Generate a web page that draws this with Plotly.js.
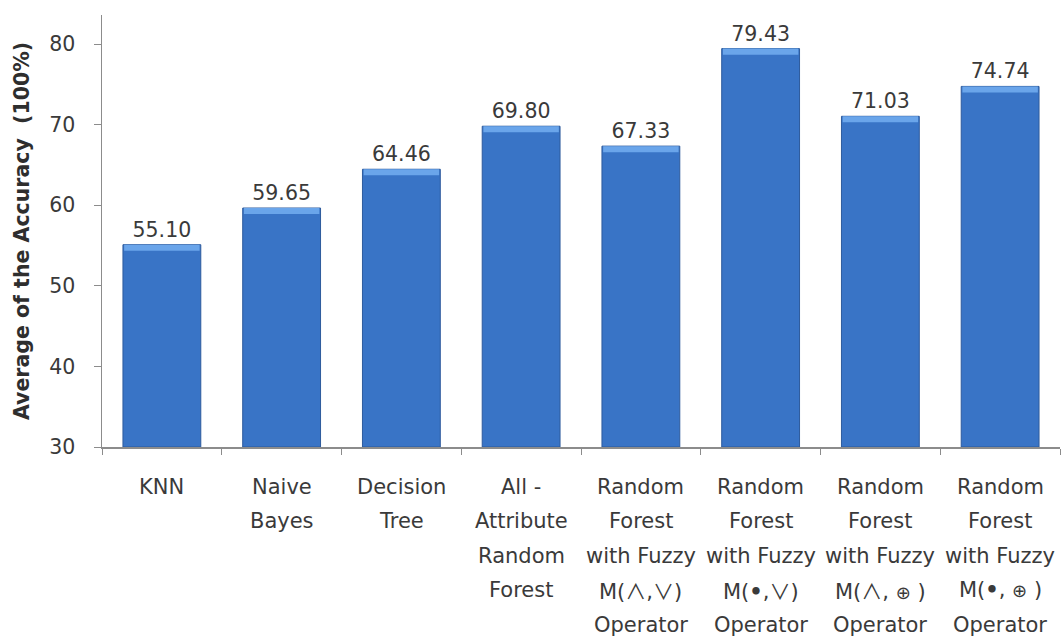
<!DOCTYPE html>
<html>
<head>
<meta charset="utf-8">
<script src="https://cdn.plot.ly/plotly-3.0.1.min.js"></script>
<style>
  html, body { margin: 0; padding: 0; background: #ffffff; }
  #chart { width: 1061px; height: 640px; }
</style>
</head>
<body>
<div id="chart"></div>
<script>
// Classifier ids (one per bar)
const categories = ['KNN', 'NB', 'DT', 'AARF', 'RF-MinMax', 'RF-ProdMax', 'RF-MinSum', 'RF-ProdSum'];

// Average accuracy of each classifier (%)
const accuracy = [55.10, 59.65, 64.46, 69.80, 67.33, 79.43, 71.03, 74.74];

// operator glyphs, set in a font that draws them at full height
const AND = '<span style="font-family:\'Noto Sans CJK JP\'">\u2227</span>';
const OR = '<span style="font-family:\'Noto Sans CJK JP\'">\u2228</span>';
const DOT = '<b>\u2022</b>';
const XOR = '<span style="font-size:18px">\u2295</span>';

// Label lines drawn under each bar
const tickLines = [
  ['KNN'],
  ['Naive', 'Bayes'],
  ['Decision', 'Tree'],
  ['All -', 'Attribute', 'Random', 'Forest'],
  ['Random', 'Forest', 'with Fuzzy', 'M(' + AND + ',' + OR + ')', 'Operator'],
  ['Random', 'Forest', 'with Fuzzy', 'M(' + DOT + ',' + OR + ')', 'Operator'],
  ['Random', 'Forest', 'with Fuzzy', 'M(' + AND + ', ' + XOR + ' )', 'Operator'],
  ['Random', 'Forest', 'with Fuzzy', 'M(' + DOT + ', ' + XOR + ' )', 'Operator']
];

const yTicks = [30, 40, 50, 60, 70, 80];

const FONT = 'DejaVu Sans, Verdana, sans-serif';
const TEXT = '#3a3a3a';
const AXIS = '#8c8c8c';
const BEVEL = 0.75;

const body = {
  type: 'bar',
  x: categories,
  y: accuracy.map(v => v - 30),
  base: 30,
  width: 0.65,
  marker: { color: '#3974c6', line: { color: '#2d5a9c', width: 1 } },
  text: accuracy.map(v => v.toFixed(2)),
  textposition: 'outside',
  textfont: { family: FONT, size: 20.5, color: TEXT },
  cliponaxis: false,
  hoverinfo: 'skip'
};

// lighter bevelled cap on top of each bar
const cap = {
  type: 'bar',
  x: categories,
  y: accuracy.map(() => BEVEL),
  base: accuracy.map(v => v - BEVEL),
  width: 0.63,
  marker: { color: '#6aa5ea', line: { width: 0 } },
  hoverinfo: 'skip'
};

const annotations = [];
categories.forEach((c, i) => {
  tickLines[i].forEach((line, j) => {
    annotations.push({
      x: c, xref: 'x',
      y: 0, yref: 'paper',
      yanchor: 'middle',
      yshift: -(39.5 + j * 34.5),
      text: line,
      showarrow: false,
      font: { family: FONT, size: 21, color: TEXT }
    });
  });
});

const layout = {
  width: 1061,
  height: 640,
  margin: { l: 102, r: 1, t: 15, b: 193 },
  paper_bgcolor: '#ffffff',
  plot_bgcolor: '#ffffff',
  showlegend: false,
  barmode: 'overlay',
  font: { family: FONT, color: TEXT },
  xaxis: {
    type: 'category',
    showticklabels: false,
    showline: true,
    linecolor: AXIS,
    linewidth: 1.5,
    ticks: 'outside',
    tickson: 'boundaries',
    ticklen: 6,
    tickcolor: AXIS,
    showgrid: false,
    zeroline: false,
    fixedrange: true
  },
  yaxis: {
    range: [30, 83.6],
    tickvals: yTicks,
    ticktext: yTicks.map(String),
    ticks: 'outside',
    ticklen: 7,
    tickcolor: AXIS,
    ticklabelstandoff: 14,
    tickfont: { family: FONT, size: 20.5, color: TEXT },
    showline: true,
    linecolor: AXIS,
    linewidth: 1.5,
    showgrid: false,
    zeroline: false,
    fixedrange: true,
    title: {
      text: 'Average of the Accuracy  (100%)',
      font: { family: FONT, size: 20.5, color: '#2e2e2e', weight: 'bold' },
      standoff: 14
    }
  },
  annotations: annotations
};

Plotly.newPlot('chart', [body, cap], layout, { displayModeBar: false, staticPlot: true });
</script>
</body>
</html>
